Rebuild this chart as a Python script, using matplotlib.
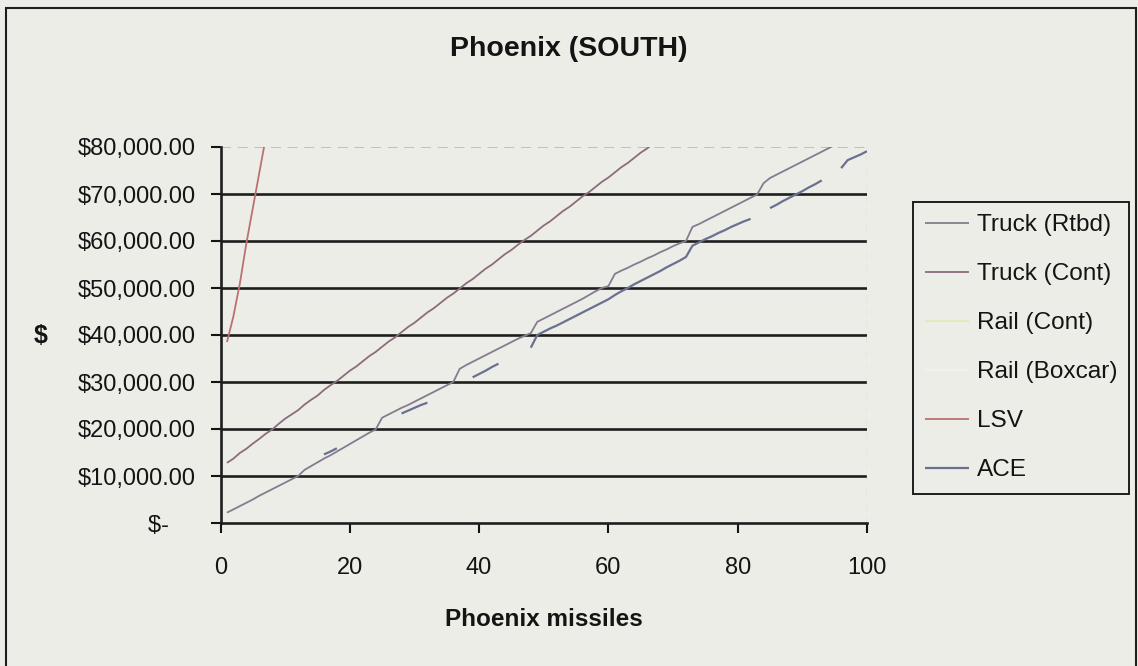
import matplotlib
matplotlib.use('Agg')
import matplotlib.pyplot as plt
import numpy as np
from matplotlib.patches import Rectangle

plt.rcParams['font.family'] = ['Liberation Sans', 'DejaVu Sans']

# ---------------- data ----------------
chart_title = 'Phoenix (SOUTH)'
x_title = 'Phoenix missiles'
y_title = '$'
series_names = ['Truck (Rtbd)', 'Truck (Cont)', 'Rail (Cont)', 'Rail (Boxcar)', 'LSV', 'ACE']

x_ticks = [0, 20, 40, 60, 80, 100]
y_ticks = [0, 10000, 20000, 30000, 40000, 50000, 60000, 70000, 80000]
y_tick_labels = ['$-    ', '$10,000.00', '$20,000.00', '$30,000.00', '$40,000.00',
                 '$50,000.00', '$60,000.00', '$70,000.00', '$80,000.00']

# Truck (Rtbd): missiles 1..95
truck_rtbd_x = list(range(1, 96))
truck_rtbd = [2200, 2900, 3600, 4300, 5000, 5800, 6500, 7200, 7900, 8600,
              9300, 10000, 11300, 12100, 12900, 13700, 14400, 15200, 16000, 16800,
              17600, 18400, 19200, 19900, 22400, 23100, 23800, 24500, 25100, 25800,
              26500, 27200, 27900, 28600, 29300, 30000, 32800, 33600, 34300, 35000,
              35700, 36400, 37100, 37800, 38500, 39200, 39800, 40400, 42800, 43500,
              44200, 44900, 45600, 46300, 47000, 47700, 48500, 49300, 50000, 50400,
              53000, 53700, 54300, 55000, 55600, 56300, 56900, 57600, 58200, 58900,
              59500, 60000, 63000, 63600, 64300, 65000, 65700, 66400, 67100, 67800,
              68500, 69200, 69900, 72300, 73400, 74100, 74800, 75500, 76200, 76900,
              77600, 78300, 79000, 79700, 80400]

# Truck (Cont): missiles 1..67
truck_cont_x = list(range(1, 68))
truck_cont = [12800, 13700, 14900, 15800, 16900, 17900, 19000, 19900, 21100, 22200,
              23100, 24000, 25200, 26200, 27100, 28300, 29300, 30200, 31300, 32400,
              33300, 34400, 35500, 36400, 37500, 38600, 39500, 40600, 41700, 42600,
              43700, 44800, 45700, 46800, 47900, 48800, 49900, 51000, 51900, 53000,
              54100, 55000, 56100, 57200, 58100, 59200, 60200, 61100, 62200, 63300,
              64200, 65300, 66400, 67300, 68400, 69500, 70400, 71500, 72600, 73500,
              74600, 75700, 76600, 77700, 78800, 79700, 80800]

# Rail series: no points visible inside the plotted range
rail_cont_x, rail_cont = [], []
rail_boxcar_x, rail_boxcar = [], []

# LSV: missiles 1..7
lsv_x = [1, 2, 3, 4, 5, 6, 7]
lsv = [38500, 44000, 51000, 59500, 67000, 74500, 82000]

# ACE: missiles 16..100 (gaps where the line is not visible)
nan = float('nan')
ace_x = list(range(16, 101))
ace = [14600, 15200, 15900, nan, nan, nan, nan, nan, nan, nan,      # 16-25
       nan, nan, 23300, 23900, 24500, 25100, 25600, nan, nan, nan,  # 26-35
       nan, nan, nan, 31000, 31700, 32400, 33200, 33900, nan, nan,  # 36-45
       nan, nan, 37300, 40000, 40700, 41400, 42000, 42700, 43400, 44100,  # 46-55
       44800, 45500, 46200, 46900, 47600, 48500, 49300, 50000, 50800, 51500,  # 56-65
       52200, 52900, 53600, 54400, 55100, 55800, 56600, 59000, 59700, 60400,  # 66-75
       61000, 61700, 62300, 63000, 63600, 64200, 64700, nan, nan, 67000,  # 76-85
       67700, 68500, 69200, 69900, 70600, 71400, 72100, 72900, nan, nan,  # 86-95
       75500, 77200, 77800, 78400, 79100]                                  # 96-100

# ---------------- styling ----------------
bg = '#ededE8'
ink = '#141414'
colors = {
    'Truck (Rtbd)': '#857b8e',
    'Truck (Cont)': '#8c6c7c',
    'Rail (Cont)': '#e6e8b4',
    'Rail (Boxcar)': '#f2f2ee',
    'LSV': '#b87272',
    'ACE': '#6a7090',
}

W, H = 1138, 666
fig = plt.figure(figsize=(W / 100, H / 100), dpi=100, facecolor=bg)
ax = fig.add_axes([220.5 / W, 1 - 523 / H, (867 - 220.5) / W, (523 - 147) / H])
ax.set_facecolor(bg)

data = [
    ('Truck (Rtbd)', truck_rtbd_x, truck_rtbd),
    ('Truck (Cont)', truck_cont_x, truck_cont),
    ('Rail (Cont)', rail_cont_x, rail_cont),
    ('Rail (Boxcar)', rail_boxcar_x, rail_boxcar),
    ('LSV', lsv_x, lsv),
    ('ACE', ace_x, ace),
]
handles = []
for name, xs, ys in data:
    lw = 1.6 if name == 'ACE' else 1.3
    h, = ax.plot(xs, ys, color=colors[name], lw=lw, label=name, zorder=3,
                 solid_capstyle='butt')
    handles.append(h)

ax.set_xlim(0, 100)
ax.set_ylim(0, 80000)
ax.set_xticks(x_ticks)
ax.set_xticklabels([str(v) for v in x_ticks])
ax.set_yticks(y_ticks)
ax.set_yticklabels(y_tick_labels)

# gridlines (80k one drawn faint like the plot border)
for v in y_ticks[1:-1]:
    ax.axhline(v, color='#1e1e1e', lw=1.9, zorder=2)
ax.axhline(80000, color='#b8b8b8', lw=1.2, ls=(0, (6, 4)), zorder=2)

for s in ['top', 'right']:
    ax.spines[s].set_visible(False)
ax.axvline(100, color='#c8c8c8', lw=1.0, ls=(0, (5, 5)), zorder=2)
for s in ['left', 'bottom']:
    ax.spines[s].set_color('#1e1e1e')
    ax.spines[s].set_linewidth(1.9)

ax.tick_params(axis='y', direction='out', length=7, width=1.5, pad=11,
               labelsize=17, colors=ink)
ax.tick_params(axis='x', direction='out', length=7.5, width=1.5, pad=17,
               labelsize=17, colors=ink)

fig.text(0.5, 1 - 49 / H, chart_title, ha='center', va='center', fontsize=20.5,
         fontweight='bold', color=ink)
fig.text(544 / W, 1 - 620 / H, x_title, ha='center', va='center', fontsize=17.5,
         fontweight='bold', color=ink)
fig.text(41 / W, 1 - 336 / H, y_title, ha='center', va='center', fontsize=18,
         fontweight='bold', color=ink)

leg = fig.legend(handles=handles, labels=series_names, loc='upper left',
                 bbox_to_anchor=(913 / W, 1 - 202 / H), fontsize=17.6,
                 frameon=True, fancybox=False, edgecolor='#1e1e1e',
                 facecolor=bg, framealpha=1, borderaxespad=0,
                 handlelength=1.8, handletextpad=0.3, labelspacing=1.1,
                 borderpad=0.5)
leg.get_frame().set_linewidth(1.4)
for t in leg.get_texts():
    t.set_color(ink)

# outer chart border
fig.patches.append(Rectangle((6 / W, -0.05), (1136 - 6) / W, 1.05 - 8 / H,
                             transform=fig.transFigure, fill=False,
                             edgecolor='#1e1e1e', lw=1.5))

fig.savefig('out.png', dpi=100, facecolor=bg)
